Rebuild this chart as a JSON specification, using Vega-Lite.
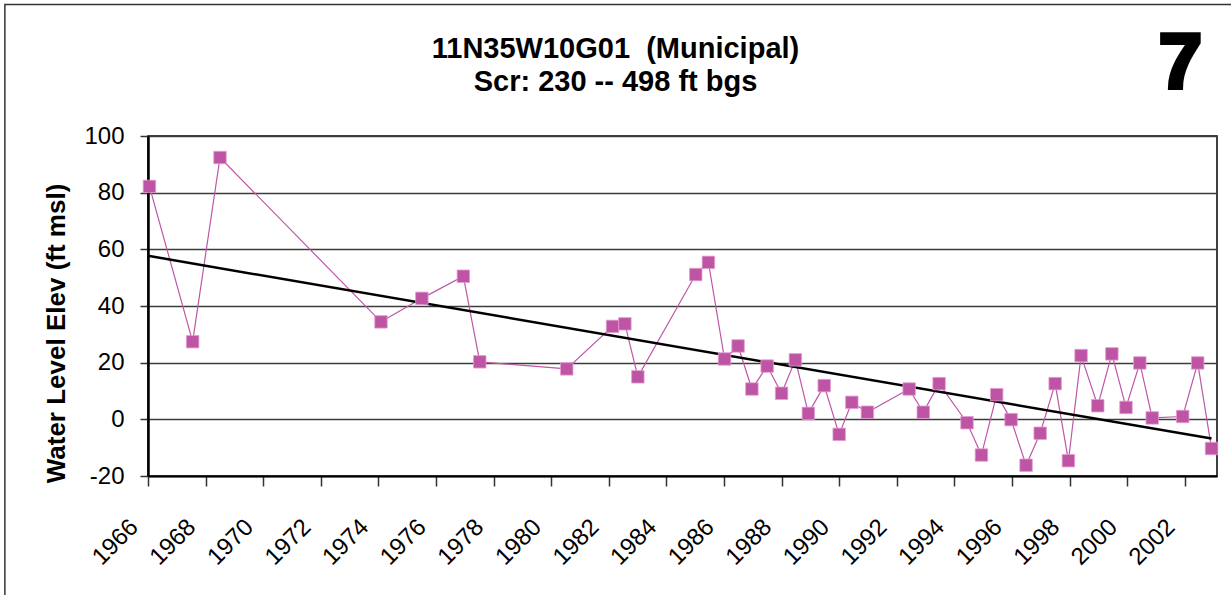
{
  "$schema": "https://vega.github.io/schema/vega-lite/v6.json",
  "autosize": {"type": "none"},
  "width": 1069,
  "height": 340,
  "padding": {"left": 148, "top": 136, "right": 14, "bottom": 119},
  "background": "white",
  "title": {
    "text": ["11N35W10G01\u00a0\u00a0(Municipal)", "Scr: 230 -- 498 ft bgs"],
    "anchor": "middle",
    "dx": -67,
    "offset": -93,
    "font": "Liberation Sans",
    "fontSize": 29,
    "fontWeight": "bold",
    "lineHeight": 32.5,
    "color": "black"
  },
  "datasets": {
    "levels": [
      {"year": 1966.05, "elev": 82.2},
      {"year": 1967.55, "elev": 27.4},
      {"year": 1968.50, "elev": 92.4},
      {"year": 1974.09, "elev": 34.4},
      {"year": 1975.51, "elev": 42.7},
      {"year": 1976.95, "elev": 50.5},
      {"year": 1977.52, "elev": 20.3},
      {"year": 1980.54, "elev": 17.8},
      {"year": 1982.13, "elev": 32.8},
      {"year": 1982.56, "elev": 33.7},
      {"year": 1983.01, "elev": 15.0},
      {"year": 1985.02, "elev": 51.1},
      {"year": 1985.46, "elev": 55.4},
      {"year": 1986.02, "elev": 21.3},
      {"year": 1986.49, "elev": 25.9},
      {"year": 1986.97, "elev": 10.7},
      {"year": 1987.50, "elev": 18.8},
      {"year": 1988.00, "elev": 9.2},
      {"year": 1988.48, "elev": 21.0},
      {"year": 1988.93, "elev": 2.1},
      {"year": 1989.48, "elev": 11.9},
      {"year": 1990.00, "elev": -5.3},
      {"year": 1990.44, "elev": 6.0},
      {"year": 1990.98, "elev": 2.5},
      {"year": 1992.43, "elev": 10.7},
      {"year": 1992.92, "elev": 2.5},
      {"year": 1993.47, "elev": 12.6},
      {"year": 1994.44, "elev": -1.2},
      {"year": 1994.94, "elev": -12.6},
      {"year": 1995.47, "elev": 8.7},
      {"year": 1995.97, "elev": -0.1},
      {"year": 1996.49, "elev": -16.2},
      {"year": 1996.98, "elev": -4.9},
      {"year": 1997.50, "elev": 12.6},
      {"year": 1997.96, "elev": -14.6},
      {"year": 1998.40, "elev": 22.5},
      {"year": 1998.98, "elev": 4.8},
      {"year": 1999.47, "elev": 23.1},
      {"year": 1999.96, "elev": 4.2},
      {"year": 2000.44, "elev": 19.9},
      {"year": 2000.87, "elev": 0.5},
      {"year": 2001.93, "elev": 1.0},
      {"year": 2002.45, "elev": 19.9},
      {"year": 2002.93, "elev": -10.3}
    ],
    "trend": [
      {"year": 1966.0, "elev": 57.7},
      {"year": 2002.93, "elev": -6.8}
    ],
    "badge": [
      {"label": "7", "year": 2001.85, "elev": 116.8}
    ]
  },
  "layer": [
    {
      "data": {"name": "levels"},
      "mark": {"type": "line", "color": "#bf56a6", "strokeWidth": 1.2, "clip": false},
      "encoding": {
        "x": {
          "field": "year",
          "type": "quantitative",
          "scale": {"domain": [1966, 2003.12], "nice": false, "zero": false},
          "axis": {
            "title": null,
            "values": [1966, 1968, 1970, 1972, 1974, 1976, 1978, 1980, 1982, 1984, 1986, 1988, 1990, 1992, 1994, 1996, 1998, 2000, 2002],
            "format": "d",
            "grid": false,
            "domainColor": "black",
            "domainWidth": 2,
            "tickColor": "#333333",
            "tickWidth": 1.5,
            "tickSize": 10,
            "labelAngle": -45,
            "labelAlign": "right",
            "labelBaseline": "middle",
            "labelPadding": 37,
            "labelOffset": -14,
            "labelFont": "Liberation Sans",
            "labelFontSize": 24,
            "labelColor": "black",
            "labelOverlap": false,
            "labelFlush": false,
            "labelBound": false
          }
        },
        "y": {
          "field": "elev",
          "type": "quantitative",
          "scale": {"domain": [-20, 100], "nice": false, "zero": false},
          "axis": {
            "title": "Water Level Elev (ft msl)",
            "values": [-20, 0, 20, 40, 60, 80, 100],
            "labelExpr": "replace(datum.label, '\u2212', '-')",
            "grid": true,
            "gridColor": "#3c3c3c",
            "gridWidth": 1.5,
            "domainColor": "black",
            "domainWidth": 2.5,
            "tickColor": "#333333",
            "tickWidth": 1.5,
            "tickSize": 8,
            "labelPadding": 16,
            "labelFont": "Liberation Sans",
            "labelFontSize": 24,
            "labelColor": "black",
            "labelFlush": false,
            "titleFont": "Liberation Sans",
            "titleFontSize": 26,
            "titleFontWeight": "bold",
            "titleColor": "black",
            "titlePadding": 14,
            "titleY": 197
          }
        }
      }
    },
    {
      "data": {"name": "trend"},
      "mark": {"type": "line", "color": "black", "strokeWidth": 2.5, "clip": false},
      "encoding": {
        "x": {"field": "year", "type": "quantitative"},
        "y": {"field": "elev", "type": "quantitative"}
      }
    },
    {
      "data": {"name": "levels"},
      "mark": {"type": "point", "shape": "square", "size": 155, "filled": true, "color": "#bd55a4", "stroke": "#e49ad2", "strokeWidth": 0.8, "opacity": 1, "clip": false},
      "encoding": {
        "x": {"field": "year", "type": "quantitative"},
        "y": {"field": "elev", "type": "quantitative"}
      }
    },
    {
      "data": {"name": "badge"},
      "mark": {"type": "text", "font": "Liberation Sans", "fontSize": 78, "fontWeight": "bold", "color": "black", "stroke": "black", "strokeWidth": 4, "strokeJoin": "miter", "align": "center", "baseline": "alphabetic", "clip": false},
      "encoding": {
        "x": {"field": "year", "type": "quantitative"},
        "y": {"field": "elev", "type": "quantitative"},
        "text": {"field": "label"}
      }
    },
    {
      "data": {"values": [{"part": "chart border"}]},
      "mark": {"type": "rect", "filled": false, "stroke": "#333333", "strokeWidth": 1.5, "clip": false},
      "encoding": {
        "x": {"datum": 1961.03, "type": "quantitative"},
        "x2": {"datum": 2007},
        "y": {"datum": 146.41, "type": "quantitative"},
        "y2": {"datum": -90}
      }
    }
  ],
  "config": {
    "view": {"stroke": "black", "strokeWidth": 1.5}
  }
}
